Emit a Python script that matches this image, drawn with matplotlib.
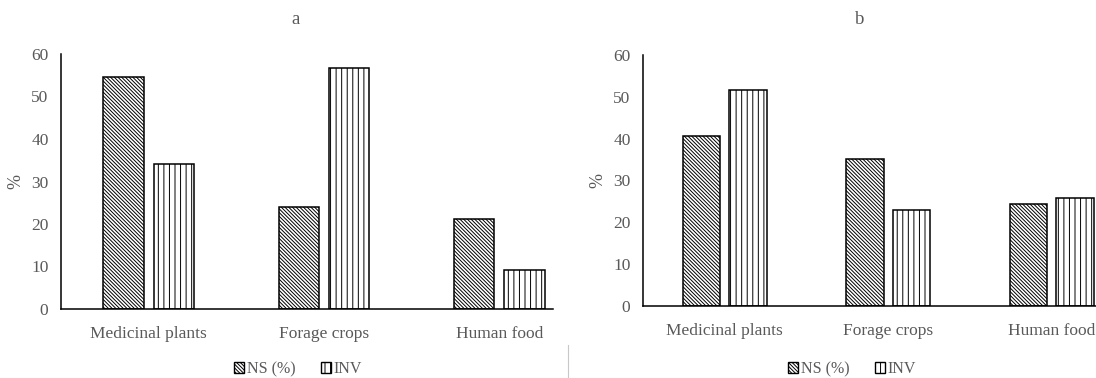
import matplotlib.pyplot as plt
from matplotlib.patches import Patch
import numpy as np

plt.rcParams['font.family'] = ['Liberation Serif', 'DejaVu Serif']
plt.rcParams['hatch.linewidth'] = 0.7

categories = ['Medicinal plants', 'Forage crops', 'Human food']
ns_a = [54.6, 24.1, 21.2]
inv_a = [34.1, 56.6, 9.2]
ns_b = [40.7, 35.2, 24.4]
inv_b = [51.6, 23.0, 25.8]

W, H = 1096, 378
grey = '#595959'
diag = '\\' * 9

fig = plt.figure(figsize=(W / 100, H / 100), dpi=100)


def px_axes(left, top, right, bottom):
    return fig.add_axes([left / W, 1 - bottom / H, (right - left) / W, (bottom - top) / H])


def draw_panel(ax, ns, inv, xmax):
    x = np.arange(len(categories))
    ax.bar(x - 0.143, ns, 0.23, color='white', edgecolor='black', linewidth=1.1,
           hatch=diag)
    ax.bar(x + 0.143, inv, 0.23, color='white', edgecolor='black', linewidth=1.1,
           hatch='|||')
    ax.set_xlim(-0.5, xmax)
    ax.set_ylim(0, 60)
    ax.set_yticks(range(0, 61, 10))
    ax.set_xticks(x)
    ax.set_xticklabels(categories)
    ax.tick_params(length=0, labelsize=12.5, colors=grey, pad=9)
    ax.tick_params(axis='x', pad=12)
    for s in ['top', 'right']:
        ax.spines[s].set_visible(False)
    for s in ['left', 'bottom']:
        ax.spines[s].set_linewidth(1.1)
    ax.set_ylabel('%', color=grey, fontsize=13, labelpad=5)


ax1 = px_axes(61, 54, 553, 309)
draw_panel(ax1, ns_a, inv_a, 2.306)
ax2 = px_axes(643, 55, 1096, 306)
draw_panel(ax2, ns_b, inv_b, 2.27)

fig.text(296 / W, 1 - 20 / H, 'a', ha='center', va='center', fontsize=13.5, color=grey)
fig.text(860 / W, 1 - 20 / H, 'b', ha='center', va='center', fontsize=13.5, color=grey)

handles = [Patch(facecolor='white', edgecolor='black', hatch=diag, label='NS (%)'),
           Patch(facecolor='white', edgecolor='black', hatch='|||', label='INV')]
for cx in [298, 852]:
    fig.legend(handles=handles, loc='center', bbox_to_anchor=(cx / W, 1 - 369 / H),
               ncol=2, frameon=False, fontsize=11.5, handlelength=0.65, handleheight=0.65,
               handletextpad=0.15, columnspacing=1.6, labelcolor=grey)

# thin separator between the two panels
fig.add_artist(plt.Line2D([568 / W, 568 / W], [0, 1 - 345 / H], color='#c8c8c8', linewidth=0.8))

fig.savefig('out.png', dpi=100)
